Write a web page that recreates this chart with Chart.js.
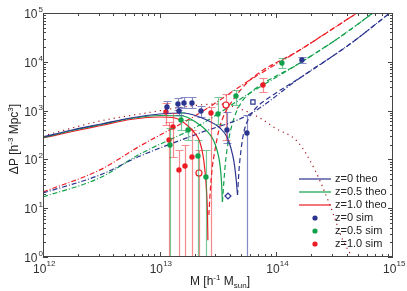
<!DOCTYPE html>
<html>
<head>
<meta charset="utf-8">
<script src="https://cdn.jsdelivr.net/npm/chart.js@4.4.1/dist/chart.umd.min.js"></script>
<style>
  html, body { margin: 0; padding: 0; background: #fff; }
</style>
</head>
<body>
<canvas id="chart" width="407" height="291"></canvas>
<script>
const FONT = '"Liberation Sans", Arial, sans-serif';
const BLUE = "#2b3590", GREEN = "#12a14b", RED = "#ec1c24", DOT = "#a3161d";

// theory, solid
const theo0M = [1e12, 1.78e12, 3.16e12, 5.62e12, 1e13, 1.58e13, 2.54e13, 3.29e13, 3.78e13, 4.08e13, 4.34e13, 4.51e13, 4.65e13];
const theo0P = [288, 400, 531, 705, 851, 893, 641, 440, 288, 171, 88, 42, 18.6];
const theo05M = [1e12, 1.78e12, 3.16e12, 5.62e12, 1e13, 1.58e13, 2.09e13, 2.49e13, 2.86e13, 3.10e13, 3.29e13, 3.39e13, 3.45e13];
const theo05P = [281, 391, 519, 689, 794, 775, 557, 400, 262, 156, 77, 34, 13.4];
const theo1M = [1e12, 1.78e12, 3.16e12, 5.62e12, 1e13, 1.35e13, 1.71e13, 2.00e13, 2.21e13, 2.35e13, 2.44e13, 2.52e13, 2.57e13, 2.59e13];
const theo1P = [275, 373, 495, 657, 739, 705, 507, 347, 227, 123, 61, 23.6, 7.3, 2.2];

// theory, dash-dot
const dd0M = [1e12, 3.08e12, 6.78e12, 2.21e13, 5.94e13, 1.59e14, 4.28e14, 9.4e14];
const dd0P = [20.5, 48, 117, 347, 851, 4660, 23150, 1e5];
const dd05M = [1e12, 3.08e12, 6.78e12, 2.21e13, 5.94e13, 1.59e14, 3.51e14, 6.73e14];
const dd05P = [17, 42, 129, 507, 2295, 9440, 32200, 1e5];
const dd1M = [1e12, 3.08e12, 6.78e12, 2.21e13, 5.94e13, 1.59e14, 4.91e14];
const dd1P = [21.5, 61, 188, 893, 4236, 17460, 1e5];

// theory, dashed
const da0M = [4.65e13, 4.79e13, 4.98e13, 5.27e13, 5.82e13, 6.68e13, 8.81e13, 1.59e14, 4.28e14, 9.4e14];
const da0P = [18.6, 61, 156, 364, 705, 1130, 1900, 4660, 23150, 1e5];
const da05M = [3.45e13, 3.56e13, 3.70e13, 3.93e13, 4.34e13, 4.98e13, 5.94e13, 1.59e14, 3.51e14, 6.73e14];
const da05P = [13.4, 37.8, 107, 275, 705, 1432, 2295, 9440, 32200, 1e5];
const da1M = [2.64e13, 2.70e13, 2.81e13, 2.98e13, 3.22e13, 3.63e13, 4.25e13, 5.94e13, 1.59e14, 4.91e14];
const da1P = [7.3, 18.6, 61, 156, 400, 893, 1649, 4236, 17460, 1e5];

// dotted
const dotM = [1e12, 3.08e12, 6.78e12, 2.21e13, 3.29e13, 5.18e13, 7.23e13, 9.73e13, 1.53e14, 2.14e14, 2.88e14, 3.72e14, 4.36e14];
const dotP = [302, 612, 851, 1303, 1365, 1028, 705, 440, 227, 61, 11.6, 2.2, 1.1];

// simulations
const sim0M = [1.155e13, 1.435e13, 1.616e13, 1.892e13, 1.464e13, 2.259e13, 3.773e13, 5.598e13, 1.657e14];
const sim0P = [1185, 1365, 1432, 1432, 981, 981, 400, 347, 10890];
const sim0Hi = [1574, 1812, 1900, 1900, 1185, 1243, 936, 813, 12540];
const sim0Lo = [893, 1028, 1130, 1130, 813, 739, 217, 1, 9440];
const open0M = [3.85e13, 6.30e13];
const open0P = [17.8, 1500];

const sim05M = [1.225e13, 1.523e13, 1.749e13, 2.129e13, 2.494e13, 3.16e13, 4.508e13, 1.117e14];
const sim05P = [197, 641, 400, 117, 43.6, 851, 1991, 9440];
const sim05Hi = [440, 936, 641, 250, 156, 1900, 2642, 11970];
const sim05Lo = [1, 400, 250, 1, 1, 531, 1303, 7460];

const sim1M = [1.132e13, 1.202e13, 1.300e13, 1.464e13, 1.648e13, 1.892e13, 2.754e13, 7.68e13];
const sim1P = [936, 250, 461, 61, 73, 112, 893, 3349];
const sim1Hi = [1432, 584, 893, 156, 197, 400, 1185, 4660];
const sim1Lo = [507, 1, 112, 1, 1, 1, 1, 2405];
const open1M = [2.172e13, 3.70e13];
const open1P = [52.7, 1303];
const open1Hi = [156, 2188];
const open1Lo = [1, 250];

const legendLabels = ["z=0 theo", "z=0.5 theo", "z=1.0 theo", "z=0 sim", "z=0.5 sim", "z=1.0 sim"];
const xDecades = [12, 13, 14, 15];
const yDecades = [0, 1, 2, 3, 4, 5];

const pts = (m, p) => m.map((x, i) => ({ x, y: p[i] }));

function line(m, p, color, dash) {
  return {
    type: "line", data: pts(m, p), borderColor: color, borderWidth: 1.2, borderDash: dash || [],
    pointRadius: 0, fill: false, cubicInterpolationMode: "monotone", order: 2
  };
}
function sim(m, p, color, err, style) {
  return {
    type: "scatter", data: pts(m, p), order: 1, err,
    pointStyle: style || "circle", pointRadius: style ? 3 : 2.7,
    backgroundColor: style ? "#fff" : color, borderColor: color, borderWidth: style ? 1.2 : 0
  };
}

// error bars drawn just under their markers
const errorBars = {
  id: "errorBars",
  beforeDatasetDraw(chart, args) {
    const ds = chart.data.datasets[args.index];
    if (!ds.err) return;
    const { ctx, chartArea: a, scales: { x, y } } = chart;
    ctx.save();
    ctx.beginPath();
    ctx.rect(a.left, a.top, a.right - a.left, a.bottom - a.top);
    ctx.clip();
    ctx.strokeStyle = ds.err.color;
    ctx.lineWidth = 1.2;
    ds.err.m.forEach((m, i) => {
      const px = Math.round(x.getPixelForValue(m)) + 0.5;
      const top = Math.round(y.getPixelForValue(ds.err.hi[i])) + 0.5;
      const bot = Math.round(y.getPixelForValue(ds.err.lo[i])) + 0.5;
      ctx.beginPath();
      ctx.moveTo(px, top); ctx.lineTo(px, bot);
      ctx.moveTo(px - 4, top); ctx.lineTo(px + 4, top);
      if (ds.err.lo[i] > 1) { ctx.moveTo(px - 4, bot); ctx.lineTo(px + 4, bot); }
      ctx.stroke();
    });
    ctx.restore();
  }
};

function richText(ctx, parts, cx, cy) {
  let w = 0;
  parts.forEach(p => { ctx.font = p[1] + "px " + FONT; w += ctx.measureText(p[0]).width; });
  let x = cx - w / 2;
  parts.forEach(p => {
    ctx.font = p[1] + "px " + FONT;
    ctx.fillText(p[0], x, cy + p[2]);
    x += ctx.measureText(p[0]).width;
  });
}

const frame = {
  id: "frame",
  afterDraw(chart) {
    const { ctx, chartArea: a, scales: { x, y } } = chart;
    ctx.save();
    ctx.strokeStyle = "#444";
    ctx.lineWidth = 1;
    ctx.strokeRect(a.left + 0.5, a.top + 0.5, a.right - a.left - 1, a.bottom - a.top - 1);

    // ticks
    ctx.beginPath();
    for (let d = 12; d < 15; d++) {
      for (let k = 1; k < 10; k++) {
        const px = Math.round(x.getPixelForValue(k * Math.pow(10, d))) + 0.5;
        const len = k === 1 ? 5 : 3;
        ctx.moveTo(px, a.bottom); ctx.lineTo(px, a.bottom - len);
        ctx.moveTo(px, a.top); ctx.lineTo(px, a.top + len);
      }
    }
    for (let d = 0; d < 5; d++) {
      for (let k = 1; k < 10; k++) {
        const py = Math.round(y.getPixelForValue(k * Math.pow(10, d))) + 0.5;
        const len = k === 1 ? 5 : 3;
        ctx.moveTo(a.left, py); ctx.lineTo(a.left + len, py);
        ctx.moveTo(a.right, py); ctx.lineTo(a.right - len, py);
      }
    }
    ctx.stroke();

    // tick labels
    ctx.fillStyle = "#333";
    ctx.textBaseline = "alphabetic";
    xDecades.forEach(d => {
      const px = x.getPixelForValue(Math.pow(10, d));
      ctx.font = "12px " + FONT; ctx.textAlign = "left";
      ctx.fillText("10", px - 10, a.bottom + 16);
      ctx.font = "8px " + FONT;
      ctx.fillText(String(d), px + 3.5, a.bottom + 9);
    });
    yDecades.forEach(d => {
      const py = y.getPixelForValue(Math.pow(10, d));
      ctx.font = "12px " + FONT; ctx.textAlign = "right";
      ctx.fillText("10", 37.5, py + 5);
      ctx.font = "8px " + FONT; ctx.textAlign = "left";
      ctx.fillText(String(d), 38.5, py - 1);
    });

    // axis titles
    ctx.fillStyle = "#222";
    ctx.textAlign = "left";
    richText(ctx, [["M [h", 12, 0], ["-1", 8, -5], [" M", 12, 0], ["sun", 8, 3], ["]", 12, 0]], 220, 285);
    ctx.save();
    ctx.translate(17.5, 139);
    ctx.rotate(-Math.PI / 2);
    richText(ctx, [["\u0394P [h", 12, 0], ["-3", 8, -5], [" Mpc", 12, 0], ["3", 8, -5], ["]", 12, 0]], 0, 0);
    ctx.restore();

    // legend
    const colors = [BLUE, GREEN, RED];
    ctx.font = "11px " + FONT;
    ctx.textBaseline = "middle";
    legendLabels.forEach((label, i) => {
      const ly = 179 + i * 13;
      const c = colors[i % 3];
      if (i < 3) {
        ctx.strokeStyle = c; ctx.lineWidth = 1.2;
        ctx.beginPath(); ctx.moveTo(299, ly); ctx.lineTo(331, ly); ctx.stroke();
      } else {
        ctx.fillStyle = c;
        ctx.beginPath(); ctx.arc(315, ly, 2.6, 0, Math.PI * 2); ctx.fill();
      }
      ctx.fillStyle = "#222";
      ctx.fillText(label, 335, ly);
    });
    ctx.restore();
  }
};

new Chart(document.getElementById("chart"), {
  data: {
    datasets: [
      sim(sim0M, sim0P, BLUE, { m: sim0M, hi: sim0Hi, lo: sim0Lo, color: "rgba(50,60,160,0.6)" }),
      sim(open0M.slice(0, 1), open0P.slice(0, 1), BLUE, null, "rectRot"),
      sim(open0M.slice(1), open0P.slice(1), BLUE, null, "rect"),
      sim(sim05M, sim05P, GREEN, { m: sim05M, hi: sim05Hi, lo: sim05Lo, color: "rgba(30,165,85,0.6)" }),
      sim(sim1M, sim1P, RED, { m: sim1M, hi: sim1Hi, lo: sim1Lo, color: "rgba(236,40,50,0.55)" }),
      sim(open1M, open1P, RED, { m: open1M, hi: open1Hi, lo: open1Lo, color: "rgba(236,40,50,0.55)" }, "circle"),
      line(theo0M, theo0P, BLUE),
      line(theo05M, theo05P, GREEN),
      line(theo1M, theo1P, RED),
      line(dd0M, dd0P, BLUE, [5, 2, 1, 2]),
      line(dd05M, dd05P, GREEN, [5, 2, 1, 2]),
      line(dd1M, dd1P, RED, [5, 2, 1, 2]),
      line(da0M, da0P, BLUE, [5, 3]),
      line(da05M, da05P, GREEN, [5, 3]),
      line(da1M, da1P, RED, [5, 3]),
      line(dotM, dotP, DOT, [1.2, 4])
    ]
  },
  options: {
    responsive: false,
    animation: false,
    layout: { padding: { left: 43, right: 14, top: 13, bottom: 34 } },
    plugins: { legend: { display: false }, tooltip: { enabled: false } },
    scales: {
      x: { type: "logarithmic", min: 1e12, max: 1e15, display: false },
      y: { type: "logarithmic", min: 1, max: 1e5, display: false }
    }
  },
  plugins: [errorBars, frame]
});
</script>
</body>
</html>
